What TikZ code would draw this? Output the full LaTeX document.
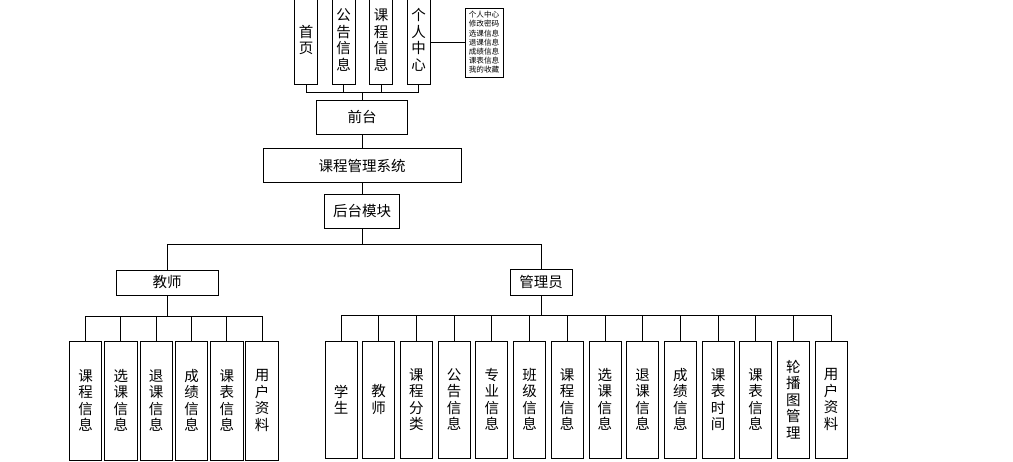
\documentclass[tikz,border=0pt]{standalone}
\usepackage{fontspec}
\setmainfont{Noto Sans CJK SC}
\usetikzlibrary{positioning}

\begin{document}
\begin{tikzpicture}[
    x=1pt, y=-1pt,
    box/.style={rectangle, draw, line width=0.8pt, inner sep=0pt, align=center, font=\fontsize{14.5}{16.5}\selectfont},
    topbox/.style={box, minimum width=23pt, minimum height=88pt},
    midbox/.style={box, minimum height=34pt},
    tleaf/.style={box, minimum width=32.5pt, minimum height=119pt},
    aleaf/.style={box, minimum width=32pt, minimum height=117pt},
    note/.style={rectangle, draw, line width=0.8pt, inner sep=0pt, minimum width=38pt, minimum height=69pt, align=left, font=\fontsize{7.6}{9.2}\selectfont},
    link/.style={line width=0.8pt}
]
    \clip (0,0) rectangle (1013,461);

    % Nodes
    \node[topbox] (shouye) at (306,40) {首\\页};
    \node[topbox] (gonggao) at (343.5,40) {公\\告\\信\\息};
    \node[topbox] (kecheng) at (381,40) {课\\程\\信\\息};
    \node[topbox] (geren) at (418.5,40) {个\\人\\中\\心};
    \node[note] (gerenlist) at (484,42.5) {个人中心\\修改密码\\选课信息\\退课信息\\成绩信息\\课表信息\\我的收藏};

    \node[midbox, minimum width=91pt] (qiantai) at (362,117) {前台};
    \node[midbox, minimum width=198pt] (system) at (362,165.5) {课程管理系统};
    \node[midbox, minimum width=75pt] (houtai) at (362,211) {后台模块};

    \node[box, minimum width=102pt, minimum height=25pt] (teacher) at (167,282.5) {教师};
    \node[box, minimum width=62pt, minimum height=26pt] (admin) at (541,282) {管理员};

    \node[tleaf] (t1) at (85.5,400.5) {课\\程\\信\\息};
    \node[tleaf] (t2) at (120.8,400.5) {选\\课\\信\\息};
    \node[tleaf] (t3) at (156.2,400.5) {退\\课\\信\\息};
    \node[tleaf] (t4) at (191.5,400.5) {成\\绩\\信\\息};
    \node[tleaf] (t5) at (226.8,400.5) {课\\表\\信\\息};
    \node[tleaf] (t6) at (262.1,400.5) {用\\户\\资\\料};

    \node[aleaf] (a1) at (341,399.5) {学\\生};
    \node[aleaf] (a2) at (378.7,399.5) {教\\师};
    \node[aleaf] (a3) at (416.4,399.5) {课\\程\\分\\类};
    \node[aleaf] (a4) at (454.1,399.5) {公\\告\\信\\息};
    \node[aleaf] (a5) at (491.8,399.5) {专\\业\\信\\息};
    \node[aleaf] (a6) at (529.5,399.5) {班\\级\\信\\息};
    \node[aleaf] (a7) at (567.2,399.5) {课\\程\\信\\息};
    \node[aleaf] (a8) at (604.9,399.5) {选\\课\\信\\息};
    \node[aleaf] (a9) at (642.6,399.5) {退\\课\\信\\息};
    \node[aleaf] (a10) at (680.3,399.5) {成\\绩\\信\\息};
    \node[aleaf] (a11) at (718,399.5) {课\\表\\时\\间};
    \node[aleaf] (a12) at (755.7,399.5) {课\\表\\信\\息};
    \node[aleaf] (a13) at (793.4,399.5) {轮\\播\\图\\管\\理};
    \node[aleaf] (a14) at (831.1,399.5) {用\\户\\资\\料};

    % Bus lines
    \coordinate (topbus) at (0,92);
    \coordinate (midbus) at (0,244);
    \coordinate (teacherbus) at (0,316);
    \coordinate (adminbus) at (0,315);

    % Connectors
    \draw[link] (qiantai.north) -- (qiantai.north |- topbus) -| (shouye.south);
    \draw[link] (qiantai.north |- topbus) -| (gonggao.south);
    \draw[link] (qiantai.north |- topbus) -| (kecheng.south);
    \draw[link] (qiantai.north |- topbus) -| (geren.south);
    \draw[link] (gerenlist.west) -- (gerenlist.west -| geren.east);

    \draw[link] (qiantai) -- (system);
    \draw[link] (system) -- (houtai);
    \draw[link] (houtai.south) -- (houtai.south |- midbus) -| (teacher.north);
    \draw[link] (houtai.south |- midbus) -| (admin.north);

    \draw[link] (teacher.south) -- (teacher.south |- teacherbus) -| (t1.north);
    \draw[link] (teacher.south |- teacherbus) -| (t2.north);
    \draw[link] (teacher.south |- teacherbus) -| (t3.north);
    \draw[link] (teacher.south |- teacherbus) -| (t4.north);
    \draw[link] (teacher.south |- teacherbus) -| (t5.north);
    \draw[link] (teacher.south |- teacherbus) -| (t6.north);

    \draw[link] (admin.south) -- (admin.south |- adminbus) -| (a1.north);
    \draw[link] (admin.south |- adminbus) -| (a2.north);
    \draw[link] (admin.south |- adminbus) -| (a3.north);
    \draw[link] (admin.south |- adminbus) -| (a4.north);
    \draw[link] (admin.south |- adminbus) -| (a5.north);
    \draw[link] (admin.south |- adminbus) -| (a6.north);
    \draw[link] (admin.south |- adminbus) -| (a7.north);
    \draw[link] (admin.south |- adminbus) -| (a8.north);
    \draw[link] (admin.south |- adminbus) -| (a9.north);
    \draw[link] (admin.south |- adminbus) -| (a10.north);
    \draw[link] (admin.south |- adminbus) -| (a11.north);
    \draw[link] (admin.south |- adminbus) -| (a12.north);
    \draw[link] (admin.south |- adminbus) -| (a13.north);
    \draw[link] (admin.south |- adminbus) -| (a14.north);
\end{tikzpicture}
\end{document}
